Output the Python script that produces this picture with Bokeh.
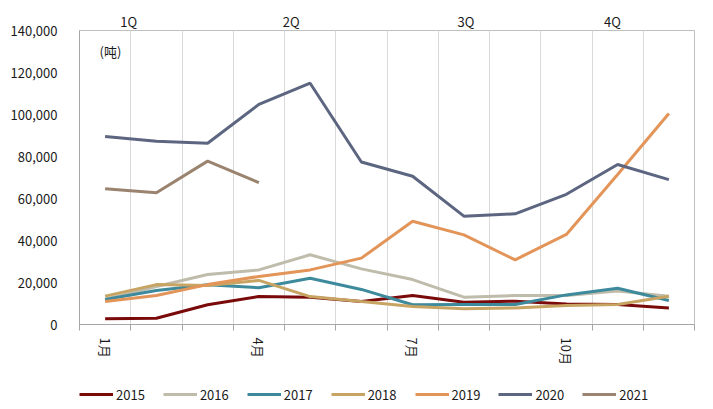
from bokeh.plotting import figure
from bokeh.layouts import column
from bokeh.models import (FixedTicker, NumeralTickFormatter, Legend, LegendItem,
                          LinearAxis, Label, Range1d, Grid)
from bokeh.embed import file_html
from bokeh.resources import INLINE

months = list(range(1, 13))
month_tick_pos = [1, 4, 7, 10]
month_tick_labels = ["1月", "4月", "7月", "10月"]
quarter_pos = [1.46, 4.63, 8.04, 10.9]
quarter_labels = ["1Q", "2Q", "3Q", "4Q"]

s2015 = [2700, 3000, 9400, 13300, 13000, 11000, 13800, 10600, 11100, 9800, 9500, 7900]
s2016 = [12000, 18100, 23800, 26000, 33200, 26500, 21400, 13000, 13800, 13800, 15900, 13500]
s2017 = [11900, 16200, 18900, 17500, 22000, 16700, 9400, 9500, 9500, 14100, 17300, 11400]
s2018 = [13500, 19000, 18600, 21000, 13300, 10900, 8600, 7500, 7900, 9000, 9500, 13500]
s2019 = [10900, 13800, 19000, 22900, 26000, 31600, 49200, 42700, 30800, 42900, 71400, 100500]
s2020 = [89500, 87300, 86300, 104800, 114900, 77400, 70600, 51600, 52700, 62000, 76200, 69000]
s2021 = [64600, 62700, 77800, 67600]

series = [
    ("2015", s2015, "#7A0A0A"),
    ("2016", s2016, "#BFBCAB"),
    ("2017", s2017, "#3D8A9C"),
    ("2018", s2018, "#C8A463"),
    ("2019", s2019, "#E39559"),
    ("2020", s2020, "#5D6680"),
    ("2021", s2021, "#9A8470"),
]

FONT = "Noto Sans CJK SC"
TXT = "#1a1a1a"

p = figure(width=705, height=374, output_backend="svg", toolbar_location=None,
           x_range=Range1d(0.5, 12.5), y_range=Range1d(0, 140000),
           x_axis_type=None, y_axis_type=None,
           min_border_left=79, min_border_right=11, min_border_top=30,
           min_border_bottom=50)
p.outline_line_color = "#BFBFBF"
p.outline_line_width = 1
p.background_fill_color = "white"
p.border_fill_color = "white"

boundaries = [m - 0.5 for m in months] + [12.5]

# y axis
yax = LinearAxis(ticker=FixedTicker(ticks=list(range(0, 140001, 20000))),
                 formatter=NumeralTickFormatter(format="0,0"))
yax.axis_line_color = "#A6A6A6"
yax.major_tick_line_color = None
yax.minor_tick_line_color = None
yax.major_label_standoff = 16
yax.major_label_text_font = FONT
yax.major_label_text_font_size = "13px"
yax.major_label_text_color = TXT
p.add_layout(yax, "left")

# x axis: ticks at month boundaries, labels at quarter-start months
xax = LinearAxis(ticker=FixedTicker(ticks=month_tick_pos, minor_ticks=boundaries),
                 major_label_overrides={k: v for k, v in zip(month_tick_pos, month_tick_labels)})
xax.axis_line_color = "#A6A6A6"
xax.major_tick_line_color = None
xax.major_tick_out = 0
xax.minor_tick_line_color = "#A6A6A6"
xax.minor_tick_out = 6
xax.minor_tick_in = 0
xax.major_label_orientation = "vertical"
xax.major_label_standoff = 7
xax.major_label_text_font = FONT
xax.major_label_text_font_size = "13px"
xax.major_label_text_color = TXT
p.add_layout(xax, "below")

# quarter labels above
qax = LinearAxis(ticker=FixedTicker(ticks=quarter_pos),
                 major_label_overrides={k: v for k, v in zip(quarter_pos, quarter_labels)})
qax.axis_line_color = None
qax.major_tick_line_color = None
qax.minor_tick_line_color = None
qax.major_tick_out = 0
qax.major_label_standoff = 0
qax.major_label_text_font = FONT
qax.major_label_text_font_size = "13px"
qax.major_label_text_color = TXT
p.add_layout(qax, "above")

# vertical grid lines at month boundaries
g = Grid(dimension=0, ticker=FixedTicker(ticks=boundaries))
g.grid_line_color = "#D9D9D9"
g.grid_line_width = 1
p.add_layout(g)

for name, vals, col in series:
    p.line(months[:len(vals)], vals, line_color=col, line_width=3)

unit = Label(x=20, y=264, x_units="screen", y_units="screen", text="(吨)",
             text_font=FONT, text_font_size="13px", text_color=TXT)
p.add_layout(unit)

# legend strip below the chart (its lines sit outside its visible range)
lf = figure(width=705, height=32, output_backend="svg", toolbar_location=None,
            x_range=Range1d(0, 1), y_range=Range1d(-1e7, -1e7 + 1),
            x_axis_type=None, y_axis_type=None,
            min_border_left=0, min_border_right=0, min_border_top=0, min_border_bottom=0)
lf.outline_line_color = None
lf.border_fill_color = "white"
lf.xgrid.visible = False
lf.ygrid.visible = False
items = []
for name, vals, col in series:
    r = lf.line(months[:len(vals)], vals, line_color=col, line_width=3)
    items.append(LegendItem(label=name, renderers=[r]))

legend = Legend(items=items, orientation="horizontal", location=(0, 2))
legend.glyph_width = 34
legend.glyph_height = 20
legend.label_standoff = 3
legend.spacing = 18
legend.padding = 4
legend.margin = 0
legend.border_line_color = None
legend.background_fill_alpha = 0
legend.label_text_font = FONT
legend.label_text_font_size = "13px"
legend.label_text_color = TXT
lf.add_layout(legend, "center")

layout = column(p, lf, spacing=0)
open("out.html", "w").write(file_html(layout, INLINE))
